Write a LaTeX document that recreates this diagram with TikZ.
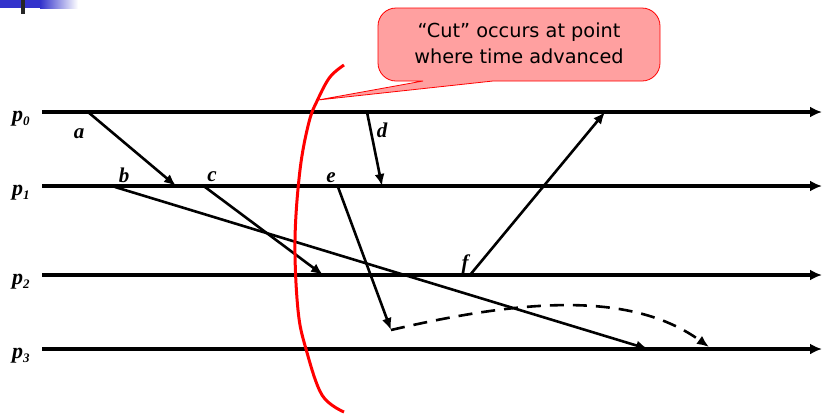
\documentclass[tikz,border=0pt]{standalone}
\usepackage{fontspec}
\setmainfont{Liberation Serif}
\newfontfamily\calloutfont{DejaVu Sans}
\usetikzlibrary{arrows.meta}
\definecolor{hdrblue}{RGB}{51,51,204}
\definecolor{calloutfill}{RGB}{255,160,160}
\definecolor{cutred}{RGB}{255,0,0}
\tikzset{
  proc/.style={line width=3.2pt,-{Latex[length=12pt,width=11pt]}},
  msg/.style={line width=2.6pt,-{Latex[length=12pt,width=10pt]}},
  ev/.style={font=\fontsize{21}{21}\selectfont\bfseries\itshape,anchor=base,inner sep=0pt},
  plab/.style={font=\fontsize{22}{22}\selectfont\bfseries\itshape,anchor=base west,inner sep=0pt},
  ctext/.style={font=\calloutfont\fontsize{19.3}{19.3}\selectfont,anchor=base,inner sep=0pt}
}
\newcommand{\sbx}[1]{\raisebox{-0.2em}{\fontsize{13}{13}\selectfont #1}}
\begin{document}
\begin{tikzpicture}[x=1pt,y=-1pt]
\useasboundingbox (0,0) rectangle (822,416);
% header decoration
\fill[hdrblue] (0,0) rectangle (40,8);
\shade[left color=hdrblue,right color=white] (40,0) rectangle (78,8);
\fill[black!85] (21,0) rectangle (25,14);
% process lines
\coordinate (s0) at (42,112); \coordinate (e0) at (822,112);
\coordinate (s1) at (42,186); \coordinate (e1) at (822,186);
\coordinate (s2) at (42,275); \coordinate (e2) at (822,275);
\coordinate (s3) at (42,349); \coordinate (e3) at (822,349);
\draw[proc] (s0) -- (e0);
\draw[proc] (s1) -- (e1);
\draw[proc] (s2) -- (e2);
\draw[proc] (s3) -- (e3);
\node[plab] (p0) at (12,121) {p\sbx{0}};
\node[plab] (p1) at (12,195) {p\sbx{1}};
\node[plab] (p2) at (12,284) {p\sbx{2}};
\node[plab] (p3) at (12,358) {p\sbx{3}};
% events
\coordinate (a) at (88,112);  \coordinate (ra) at (176,186);
\coordinate (b) at (115,187); \coordinate (rb) at (648,349);
\coordinate (c) at (205,187); \coordinate (rc) at (323,275);
\coordinate (d) at (367,112); \coordinate (rd) at (382,186);
\coordinate (e) at (338,187); \coordinate (re) at (391,330);
\coordinate (f) at (470,275); \coordinate (rf) at (605,112);
\coordinate (rg) at (709,347);
\draw[msg] (a) -- (ra);
\draw[msg] (b) -- (rb);
\draw[msg] (c) -- (rc);
\draw[msg] (d) -- (rd);
\draw[msg] (e) -- (re);
\draw[msg] (f) -- (rf);
\draw[msg,dash pattern=on 14pt off 9pt] (re) .. controls (520,300) and (630,290) .. (rg);
\node[ev] (la) at (79,138) {a};
\node[ev] (lb) at (124,182) {b};
\node[ev] (lc) at (212,181) {c};
\node[ev] (ld) at (382,137) {d};
\node[ev] (le) at (331,182) {e};
\node[ev] (lf) at (465,269) {f};
% cut
\draw[cutred,line width=3pt] plot[smooth,tension=0.6] coordinates {(344,65) (330,77) (318,99) (309,122) (300,170) (295,240) (298,310) (306,349) (322,395) (344,412)};
% callout
\coordinate (tip) at (318,100);
\draw[cutred,fill=calloutfill,line width=0.8pt] (423,81) -- (tip) -- (493,81)
  [rounded corners=18pt] -- (660,81) -- (660,8) -- (378,8) -- (378,81) [sharp corners] -- cycle;
\node[ctext] (t1) at (519,37) {“Cut” occurs at point};
\node[ctext] (t2) at (519,63) {where time advanced};
\end{tikzpicture}
\end{document}
